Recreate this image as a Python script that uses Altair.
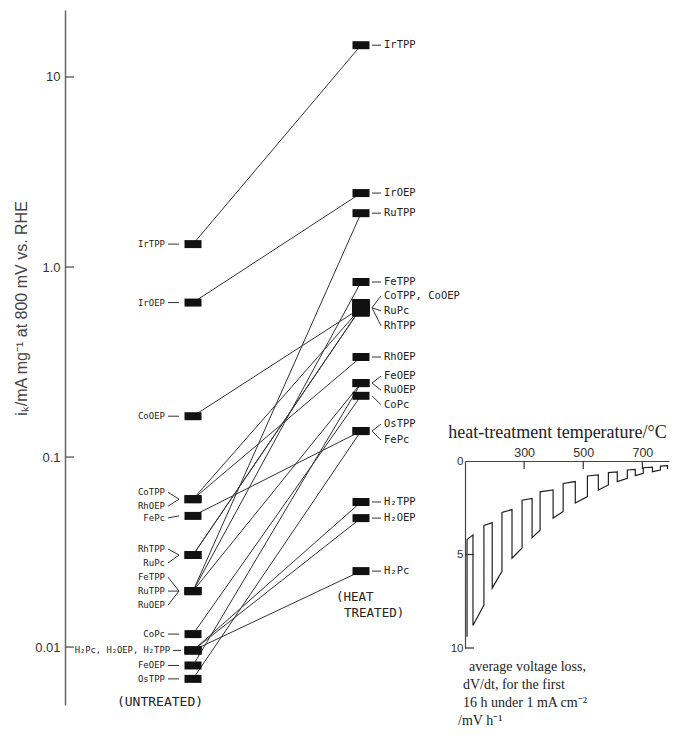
import altair as alt
import pandas as pd

# ---------------- data ----------------
compounds = ["IrTPP", "IrOEP", "CoOEP", "CoTPP", "RhOEP", "FePc", "RhTPP", "RuPc",
             "FeTPP", "RuTPP", "RuOEP", "CoPc", "H₂Pc", "H₂OEP", "H₂TPP", "FeOEP", "OsTPP"]
untreated = [1.32, 0.65, 0.164, 0.060, 0.060, 0.049, 0.0305, 0.0305,
             0.0197, 0.0197, 0.0197, 0.0117, 0.0096, 0.0096, 0.0096, 0.0080, 0.0068]
heat_treated = [14.7, 2.45, 0.61, 0.61, 0.336, 0.137, 0.61, 0.61,
                0.834, 1.92, 0.245, 0.21, 0.0251, 0.0477, 0.058, 0.245, 0.137]

y_tick_values = [0.01, 0.1, 1, 10]

left_labels = ["IrTPP", "IrOEP", "CoOEP", "CoTPP", "RhOEP", "FePc", "RhTPP", "RuPc",
               "FeTPP", "RuTPP", "RuOEP", "CoPc", "H₂Pc, H₂OEP, H₂TPP", "FeOEP", "OsTPP"]
left_label_of = ["IrTPP", "IrOEP", "CoOEP", "CoTPP", "RhOEP", "FePc", "RhTPP", "RuPc",
                 "FeTPP", "RuTPP", "RuOEP", "CoPc", "H₂Pc", "FeOEP", "OsTPP"]
left_label_dy = [0, 0, 0, -7, 7, 2, -6, 8, -14, 0, 14, 0, 0, 0, 0]

right_labels = ["IrTPP", "IrOEP", "RuTPP", "FeTPP", "CoTPP, CoOEP", "RuPc", "RhTPP", "RhOEP",
                "FeOEP", "RuOEP", "CoPc", "OsTPP", "FePc", "H₂TPP", "H₂OEP", "H₂Pc"]
right_label_of = ["IrTPP", "IrOEP", "RuTPP", "FeTPP", "CoTPP", "RuPc", "RhTPP", "RhOEP",
                  "FeOEP", "RuOEP", "CoPc", "OsTPP", "FePc", "H₂TPP", "H₂OEP", "H₂Pc"]
right_label_dy = [0, 0, 0, 0, -12, 3, 18, 0, -7, 7, 9, -7, 9, 0, 0, 0]

# inset: heat-treatment temperature vs average voltage loss band
temps = [107, 127, 164, 192, 225, 259, 293, 327, 354, 398, 432, 473, 514, 551,
         585, 615, 649, 676, 703, 734, 761, 785]
upper = [4.2, 3.95, 3.45, 3.3, 2.75, 2.6, 2.1, 2.0, 1.65, 1.55, 1.2, 1.1, 0.8, 0.75,
         0.62, 0.58, 0.48, 0.45, 0.36, 0.33, 0.27, 0.25]
lower = [9.4, 8.8, 7.7, 6.8, 5.9, 5.2, 4.65, 4.1, 3.7, 3.05, 2.7, 2.25, 1.9, 1.55,
         1.28, 1.1, 0.92, 0.78, 0.66, 0.57, 0.48, 0.43]
inset_x_ticks = [300, 500, 700]
inset_y_ticks = [0, 5, 10]

caption_lines = ["average voltage loss,", "dV/dt, for the first",
                 "16 h under 1 mA cm⁻²", "/mV h⁻¹"]
caption_indent = [6, 0, 0, -5]

# ---------------- tables ----------------
rows = []
for c, u, h in zip(compounds, untreated, heat_treated):
    rows.append({"compound": c, "stage": 0, "value": u})
    rows.append({"compound": c, "stage": 1, "value": h})
pts = pd.DataFrame(rows)

lab_rows = []
for t, of, dy in zip(left_labels, left_label_of, left_label_dy):
    lab_rows.append({"label": t, "stage": 0, "value": untreated[compounds.index(of)], "dy": dy})
for t, of, dy in zip(right_labels, right_label_of, right_label_dy):
    lab_rows.append({"label": t, "stage": 1, "value": heat_treated[compounds.index(of)], "dy": dy})
labs = pd.DataFrame(lab_rows)
labs["long"] = labs["label"].str.len() > 12

path_rows = []
k = 0
for i, (t, up, lo) in enumerate(zip(temps, upper, lower)):
    seq = [lo, up] if i % 2 == 0 else [up, lo]
    for v in seq:
        path_rows.append({"t": t, "v": v, "o": k})
        k += 1
path = pd.DataFrame(path_rows)

# ---------------- scales / encodings ----------------
W, H = 605, 695
INK = "#222222"
MONO = "DejaVu Sans Mono"

x_main = alt.Scale(domain=[0, 1], range=[128, 296], nice=False, zero=False)
y_main = alt.Scale(type="log", domain=[0.004955, 22.52], range=[H, 0], nice=False)

main_axis = alt.Axis(
    orient="left", values=y_tick_values, ticks=False, grid=False,
    labelExpr="datum.value > 5 ? '10' : datum.value > 0.5 ? '1.0' : datum.value > 0.05 ? '0.1' : '0.01'",
    labelFont="Liberation Sans", labelFontSize=13, labelColor="#333", labelPadding=5,
    domainColor="#666", domainWidth=1.5,
    title="iₖ/mA mg⁻¹ at 800 mV vs. RHE", titleFont="Liberation Sans", titleFontSize=16,
    titleFontWeight="normal", titleColor="#444", titleX=-44, titleY=298,
    titleAngle=-90, titleAlign="center", titleBaseline="middle",
)
X_ENC = alt.X("stage:Q", scale=x_main, axis=None)
Y_ENC = alt.Y("value:Q", scale=y_main, axis=main_axis)

lines = alt.Chart(pts).mark_line(color="#333", strokeWidth=1).encode(
    x=X_ENC, y=Y_ENC, detail="compound:N")

axis_ticks = alt.Chart(pd.DataFrame({"value": y_tick_values})).mark_rule(
    color="#555", strokeWidth=1.3).encode(x=alt.value(0), x2=alt.value(9), y=Y_ENC)

markers = alt.Chart(pts).mark_tick(orient="horizontal", size=17, thickness=8,
                                   color="#111", opacity=1).encode(x=X_ENC, y=Y_ENC)
block = alt.Chart(pts).transform_joinaggregate(
    n="count()", groupby=["stage", "value"]).transform_filter("datum.n >= 4").mark_tick(
    orient="horizontal", size=17, thickness=17, color="#111", opacity=1).encode(x=X_ENC, y=Y_ENC)

label_layers = []
for (side, dy, long), sub in labs.groupby(["stage", "dy", "long"]):
    dy = float(dy)
    if side == 0:
        t = alt.Chart(sub).mark_text(align="right", baseline="middle",
                                     dx=-23 if long else -28, dy=dy,
                                     font=MONO, fontSize=8.8 if long else 9, color=INK)
        if long:
            r = alt.Chart(sub).mark_rule(xOffset=-20, x2Offset=-12, yOffset=dy, y2Offset=0,
                                         color="#333", strokeWidth=1)
        else:
            r = alt.Chart(sub).mark_rule(xOffset=-25, x2Offset=-14, yOffset=dy, y2Offset=0,
                                         color="#333", strokeWidth=1)
    else:
        t = alt.Chart(sub).mark_text(align="left", baseline="middle", dx=23, dy=dy,
                                     font=MONO, fontSize=10.5, color=INK)
        r = alt.Chart(sub).mark_rule(xOffset=11, x2Offset=20, yOffset=0, y2Offset=dy,
                                     color="#333", strokeWidth=1)
    label_layers.append(t.encode(x=X_ENC, y=Y_ENC, text="label:N"))
    label_layers.append(r.encode(x=X_ENC, y=Y_ENC, x2=alt.X2("stage"), y2=alt.Y2("value")))

untreated_txt = alt.Chart(pd.DataFrame({"stage": [0]})).mark_text(
    text="(UNTREATED)", font=MONO, fontSize=13, color=INK, align="center",
    baseline="middle", dx=-33).encode(x=X_ENC, y=alt.value(692))
heat_txt1 = alt.Chart(pd.DataFrame({"stage": [1]})).mark_text(
    text="(HEAT", font=MONO, fontSize=12.5, color=INK, align="left",
    baseline="middle", dx=-25).encode(x=X_ENC, y=alt.value(587))
heat_txt2 = alt.Chart(pd.DataFrame({"stage": [1]})).mark_text(
    text="TREATED)", font=MONO, fontSize=12.5, color=INK, align="left",
    baseline="middle", dx=-17).encode(x=X_ENC, y=alt.value(603))

main = alt.layer(lines, axis_ticks, markers, block, *label_layers,
                 untreated_txt, heat_txt1, heat_txt2)

# ---------------- inset ----------------
x_in = alt.Scale(domain=[100, 790], range=[400, 604], nice=False, zero=False)
y_in = alt.Scale(domain=[0, 10], range=[451, 638], nice=False, zero=False)
inset_x_axis = alt.Axis(
    orient="top", offset=-451, values=inset_x_ticks, ticks=False, grid=False,
    labelFont="Liberation Sans", labelFontSize=12.5, labelColor="#333", labelPadding=2,
    domainColor="#444", domainWidth=1.2,
    title="heat-treatment temperature/°C", titleFont="Liberation Serif", titleFontSize=18,
    titleFontWeight="normal", titleColor=INK, titleX=492, titleY=-29,
    titleAlign="center", titleBaseline="middle",
)
inset_y_axis = alt.Axis(
    orient="left", offset=-400, values=inset_y_ticks, ticks=False, grid=False,
    labelFont="Liberation Sans", labelFontSize=11.5, labelColor="#333", labelPadding=2,
    domainColor="#444", domainWidth=1.2, title=None,
)
XI = alt.X("t:Q", scale=x_in, axis=inset_x_axis)
YI = alt.Y("v:Q", scale=y_in, axis=inset_y_axis)

meander = alt.Chart(path).mark_line(color=INK, strokeWidth=1.2).encode(
    x=XI, y=YI, order="o:Q")
in_yt = alt.Chart(pd.DataFrame({"t": [temps[0] - 7] * 2, "v": inset_y_ticks[1:]})).mark_tick(
    orient="horizontal", size=9, thickness=1.2, xOffset=4.5, color="#333", opacity=1).encode(x=XI, y=YI)
in_xt = alt.Chart(pd.DataFrame({"t": inset_x_ticks, "v": [inset_y_ticks[0]] * 3})).mark_tick(
    orient="vertical", size=8, thickness=1.2, yOffset=4, color="#333", opacity=1).encode(x=XI, y=YI)

cap_layers = []
for i, (line, ind) in enumerate(zip(caption_lines, caption_indent)):
    cap_layers.append(alt.Chart(alt.Data(values=[{}])).mark_text(
        text=line, font="Liberation Serif", fontSize=14, color=INK, align="left",
        baseline="middle").encode(x=alt.value(398 + ind), y=alt.value(657 + 18 * i)))

inset = alt.layer(meander, in_yt, in_xt, *cap_layers)

chart = alt.layer(main, inset).resolve_scale(x="independent", y="independent").properties(
    width=W, height=H, autosize=alt.AutoSizeParams(type="none"),
    padding={"left": 65, "top": 10, "right": 6, "bottom": 33},
    background="white",
).configure_view(stroke=None)

chart.save("out.html", embed_options={"renderer": "svg", "actions": False})
